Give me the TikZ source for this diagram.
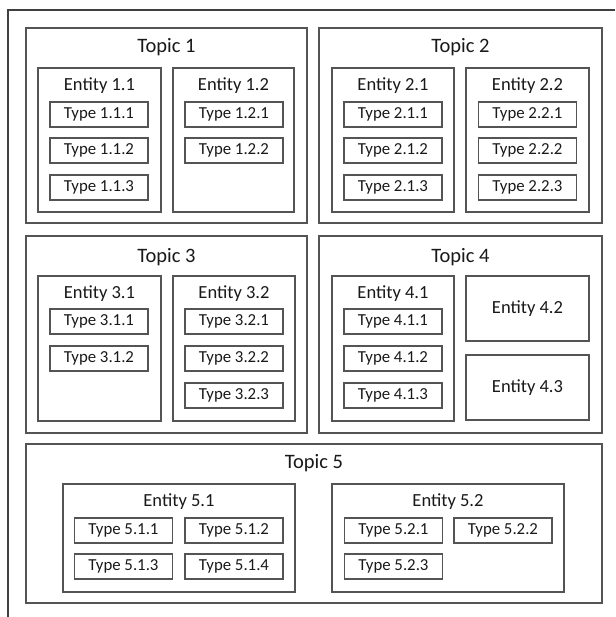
\documentclass[tikz,border=0pt]{standalone}
\usepackage{fontspec}
\setmainfont{Carlito}
\usetikzlibrary{fit}
\definecolor{ln}{rgb}{0.33,0.33,0.33}
\definecolor{outer}{rgb}{0.25,0.25,0.25}
\definecolor{txt}{rgb}{0.1,0.1,0.1}
\tikzset{
  topicbox/.style={draw=ln, line width=1.2pt, inner sep=0pt, fill=white},
  entbox/.style={draw=ln, line width=1.1pt, inner sep=0pt},
  typebox/.style={draw=ln, line width=1.1pt, inner sep=0pt, minimum width=98pt, minimum height=25pt, text=txt, font=\fontsize{16.8}{18}\selectfont},
  topiclabel/.style={text=txt, inner sep=0pt, font=\fontsize{20.5}{22}\selectfont},
  entlabel/.style={text=txt, inner sep=0pt, font=\fontsize{18.5}{20}\selectfont},
}
\begin{document}
\begin{tikzpicture}[x=1pt,y=-1pt]
\useasboundingbox (0,0) rectangle (615,617);
\coordinate (oa) at (8,617);
\coordinate (ob) at (8,10);
\coordinate (oc) at (615,10);
\draw[outer, line width=1.2pt] (oa) -- (ob) -- (oc);

% Topics
\node[topicbox, fit={(26,28) (307,223)}] (T1) {};
\node[topicbox, fit={(319,28) (602,223)}] (T2) {};
\node[topicbox, fit={(26,236) (307,433)}] (T3) {};
\node[topicbox, fit={(319,236) (602,433)}] (T4) {};
\node[topicbox, fit={(26,444) (602,603)}] (T5) {};
\node[topiclabel] (T1l) at (166.5,47) {Topic 1};
\node[topiclabel] (T2l) at (460.5,47) {Topic 2};
\node[topiclabel] (T3l) at (166.5,257) {Topic 3};
\node[topiclabel] (T4l) at (460.5,257) {Topic 4};
\node[topiclabel] (T5l) at (314,463) {Topic 5};

% Entities
\node[entbox, fit={(38,68) (161,212)}] (E11) {};
\node[entbox, fit={(173,68) (294,212)}] (E12) {};
\node[entbox, fit={(332,68) (454,212)}] (E21) {};
\node[entbox, fit={(466,68) (589,212)}] (E22) {};
\node[entbox, fit={(38,276) (161,421)}] (E31) {};
\node[entbox, fit={(173,276) (295,421)}] (E32) {};
\node[entbox, fit={(332,276) (454,421)}] (E41) {};
\node[entbox, fit={(466,276) (589,341)}] (E42) {};
\node[entbox, fit={(466,355) (589,420)}] (E43) {};
\node[entbox, fit={(63,484) (295,592)}] (E51) {};
\node[entbox, fit={(332,484) (564,592)}] (E52) {};

\node[entlabel] (E11l) at (99.5,86) {Entity 1.1};
\node[entlabel] (E12l) at (233.5,86) {Entity 1.2};
\node[entlabel] (E21l) at (393,86) {Entity 2.1};
\node[entlabel] (E22l) at (527.5,86) {Entity 2.2};
\node[entlabel] (E31l) at (99.5,294) {Entity 3.1};
\node[entlabel] (E32l) at (234,294) {Entity 3.2};
\node[entlabel] (E41l) at (393,294) {Entity 4.1};
\node[entlabel] (E42l) at (E42.center) {Entity 4.2};
\node[entlabel] (E43l) at (E43.center) {Entity 4.3};
\node[entlabel] (E51l) at (179,502) {Entity 5.1};
\node[entlabel] (E52l) at (448,502) {Entity 5.2};

% Types
\node[typebox] (t111) at (99,114.5) {Type 1.1.1};
\node[typebox] (t112) at (99,150.5) {Type 1.1.2};
\node[typebox] (t113) at (99,187.5) {Type 1.1.3};
\node[typebox] (t121) at (234,114.5) {Type 1.2.1};
\node[typebox] (t122) at (234,150.5) {Type 1.2.2};
\node[typebox] (t211) at (393,114.5) {Type 2.1.1};
\node[typebox] (t212) at (393,150.5) {Type 2.1.2};
\node[typebox] (t213) at (393,187.5) {Type 2.1.3};
\node[typebox] (t221) at (527.5,114.5) {Type 2.2.1};
\node[typebox] (t222) at (527.5,150.5) {Type 2.2.2};
\node[typebox] (t223) at (527.5,187.5) {Type 2.2.3};
\node[typebox] (t311) at (99,321.5) {Type 3.1.1};
\node[typebox] (t312) at (99,358.5) {Type 3.1.2};
\node[typebox] (t321) at (234,321.5) {Type 3.2.1};
\node[typebox] (t322) at (234,358.5) {Type 3.2.2};
\node[typebox] (t323) at (234,395.5) {Type 3.2.3};
\node[typebox] (t411) at (393,321.5) {Type 4.1.1};
\node[typebox] (t412) at (393,358.5) {Type 4.1.2};
\node[typebox] (t413) at (393,395.5) {Type 4.1.3};
\node[typebox] (t511) at (123.5,530.5) {Type 5.1.1};
\node[typebox] (t512) at (234,530.5) {Type 5.1.2};
\node[typebox] (t513) at (123.5,566.5) {Type 5.1.3};
\node[typebox] (t514) at (234,566.5) {Type 5.1.4};
\node[typebox] (t521) at (393.5,530.5) {Type 5.2.1};
\node[typebox] (t522) at (503,530.5) {Type 5.2.2};
\node[typebox] (t523) at (393.5,566.5) {Type 5.2.3};
\end{tikzpicture}
\end{document}
